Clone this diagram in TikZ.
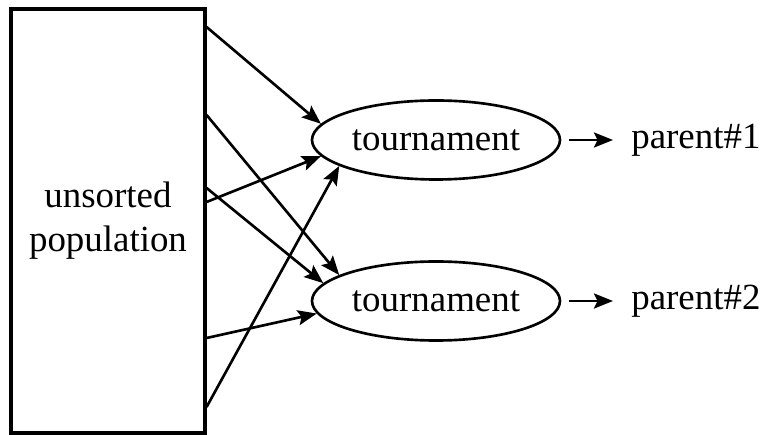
\documentclass[tikz,border=0pt]{standalone}
\usepackage{fontspec}
\setmainfont{Liberation Serif}
\usetikzlibrary{shapes.geometric,arrows.meta}

\begin{document}
\begin{tikzpicture}[
pool/.style={rectangle,draw,line width=1.8pt,minimum width=3.88cm,minimum height=8.48cm,align=center,font=\fontsize{21}{25}\selectfont},
tour/.style={ellipse,draw,line width=1.5pt,minimum width=4.96cm,minimum height=1.58cm,inner sep=0pt,font=\fontsize{21}{25}\selectfont},
lab/.style={inner sep=0pt,anchor=west,font=\fontsize{21}{25}\selectfont},
edge/.style={line width=1.5pt,-{Stealth[length=3.8mm,width=3mm,inset=0.7mm]}}
]
\useasboundingbox (0,0) rectangle (15.24,-8.7);

\node[pool] (pop) at (2.16,-4.42) {unsorted\\population};
\node[tour] (t1) at (8.72,-2.80) {tournament};
\node[tour] (t2) at (8.72,-6.02) {tournament};
\node[lab] (p1) at (12.62,-2.80) {parent\#1};
\node[lab] (p2) at (12.62,-6.02) {parent\#2};

% picks into the first tournament
\draw[edge] ([yshift=3.88cm]pop.east) -- (t1.172);
\draw[edge] ([yshift=0.38cm]pop.east) -- (t1.188);
\draw[edge] ([yshift=-3.72cm]pop.east) -- (t1.195);

% picks into the second tournament
\draw[edge] ([yshift=2.12cm]pop.east) -- (t2.165);
\draw[edge] ([yshift=0.66cm]pop.east) -- (t2.171);
\draw[edge] ([yshift=-2.34cm]pop.east) -- (t2.186);

% winners
\draw[edge,shorten <=0.16cm,shorten >=0.36cm] (t1.east) -- (p1.west);
\draw[edge,shorten <=0.16cm,shorten >=0.36cm] (t2.east) -- (p2.west);

\end{tikzpicture}
\end{document}
